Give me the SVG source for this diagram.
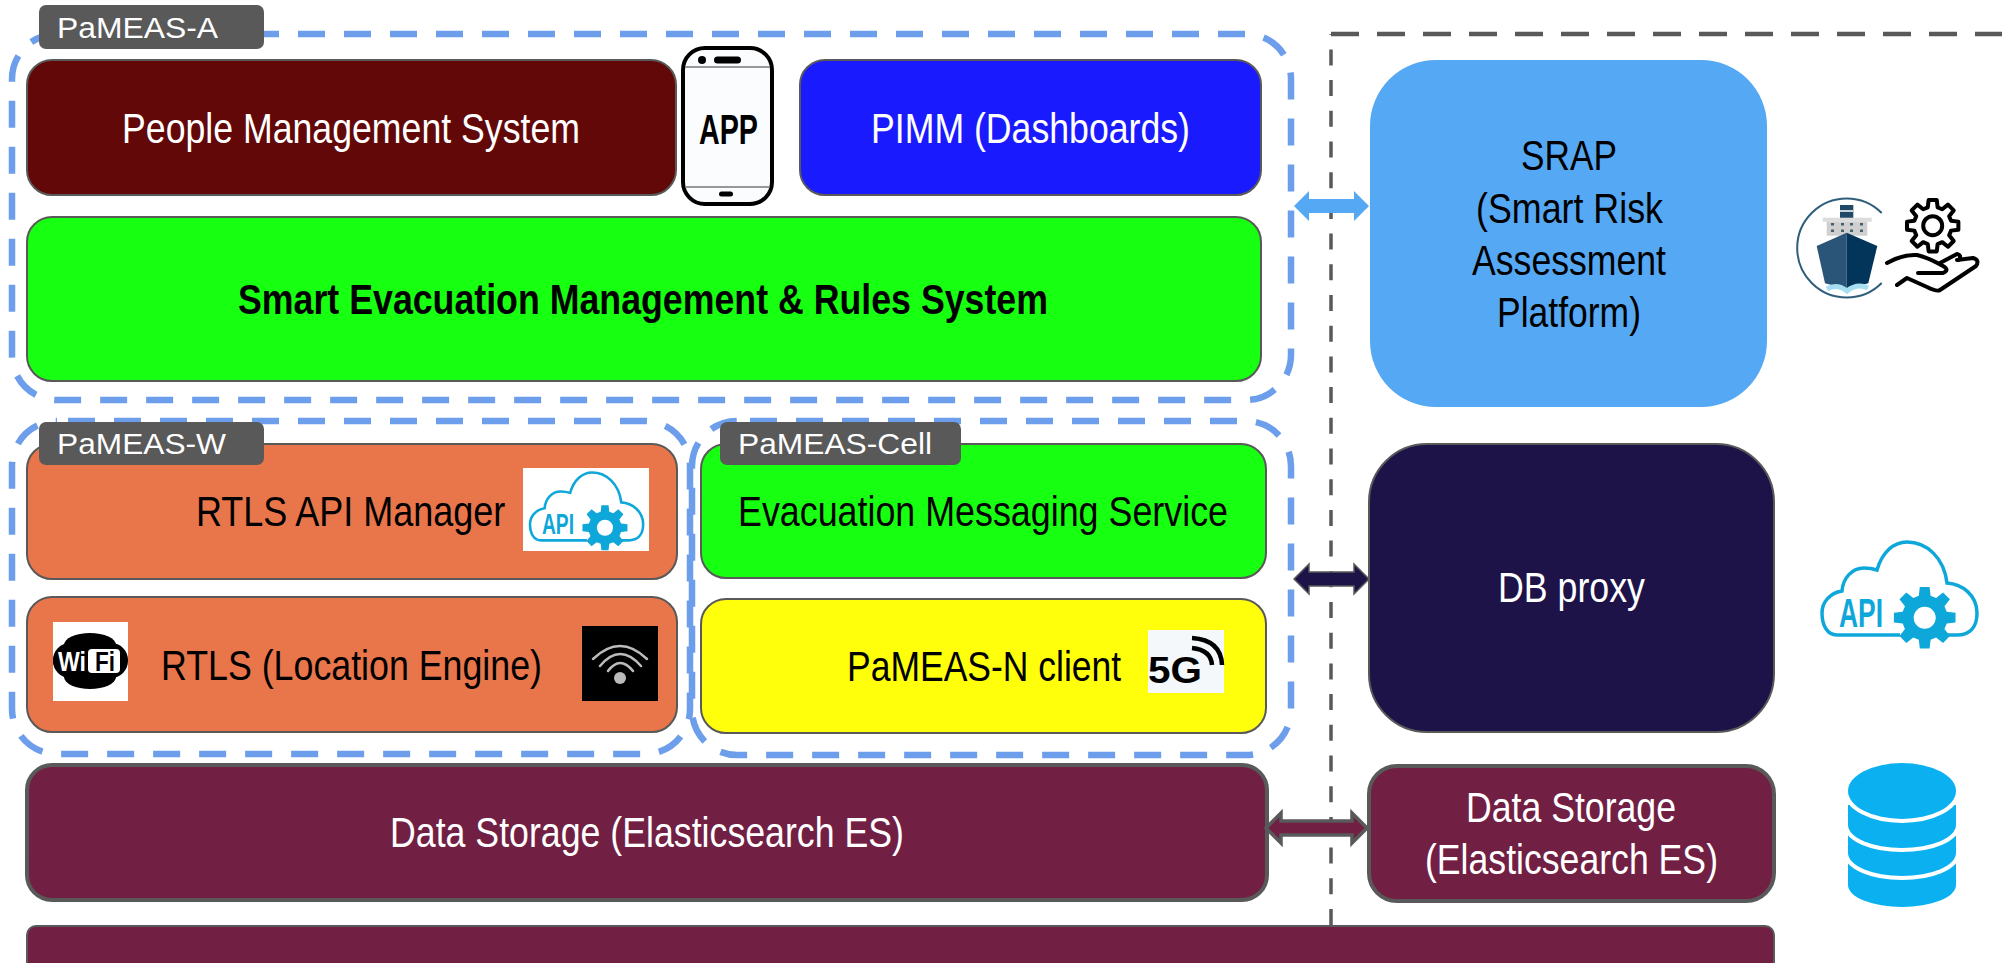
<svg xmlns="http://www.w3.org/2000/svg" xmlns:xlink="http://www.w3.org/1999/xlink" width="2002" height="963" viewBox="0 0 2002 963">
<style>
text{font-family:"Liberation Sans",Arial,sans-serif;font-size:43px}
.w{fill:#fff}.k{fill:#000}
.b{font-weight:bold}
.lab{font-size:30px;fill:#fff}
.box{stroke:#595959;stroke-width:2}
.thick{stroke:#595959;stroke-width:4;fill:#721f44}
.dash{fill:none;stroke:#6d9eeb;stroke-width:6.5;stroke-dasharray:27 19}
.tag{fill:#595959}
.api{fill:none;stroke:#0ea7da;stroke-width:3.5}
</style>
<defs>
<polygon id="gearshape" points="18.35,-4.92 25.68,-4.07 25.68,4.07 18.35,4.92 16.45,9.5 21.03,15.28 15.28,21.03 9.5,16.45 4.92,18.35 4.07,25.68 -4.07,25.68 -4.92,18.35 -9.5,16.45 -15.28,21.03 -21.03,15.28 -16.45,9.5 -18.35,4.92 -25.68,4.07 -25.68,-4.07 -18.35,-4.92 -16.45,-9.5 -21.03,-15.28 -15.28,-21.03 -9.5,-16.45 -4.92,-18.35 -4.07,-25.68 4.07,-25.68 4.92,-18.35 9.5,-16.45 15.28,-21.03 21.03,-15.28 16.45,-9.5"/>
<g id="apicloud">
<path class="api" d="M78 95H15C5 95 0 85 0 73C0 62 8 53 20 51C21 38 30 28 42 28C48 28 52 29 55 30C60 12 72 2 85 2C105 2 122 18 125 43C140 44 155 55 155 73C155 87 148 95 135 95H125"/>
<use xlink:href="#gearshape" transform="translate(102.7 77.7) scale(1.2)" fill="#0ea7da"/>
<circle cx="102.7" cy="77.7" r="11" fill="#fff"/>
</g>
</defs>
<rect width="2002" height="963" fill="#fff"/>

<g id="boundary">
<path d="M1331 925V34" fill="none" stroke="#595959" stroke-width="3.5" stroke-dasharray="16 14.7"/>
<path d="M1331 34H2002" fill="none" stroke="#595959" stroke-width="4.5" stroke-dasharray="28 18"/>
</g>

<g id="group-a-frame"><rect class="dash" x="12" y="34" width="1279" height="366" rx="45" stroke-dashoffset="35"/></g>
<g id="group-w-frame"><rect class="dash" x="12" y="421" width="678" height="333" rx="45" stroke-dashoffset="35"/></g>
<g id="group-cell-frame"><rect class="dash" x="692" y="421" width="599" height="334" rx="45" stroke-dashoffset="33"/></g>

<g id="people-management">
<rect class="box" x="27" y="60" width="649" height="135" rx="25" fill="#620808"/>
<text class="w" x="122" y="143" textLength="458" lengthAdjust="spacingAndGlyphs">People Management System</text>
</g>
<g id="app-icon">
<rect x="683" y="48" width="89" height="156" rx="22" fill="#fbfcfe" stroke="#000" stroke-width="4"/>
<path d="M685 67H770M685 187H770" stroke="#777" stroke-width="1.5" fill="none"/>
<circle cx="702" cy="60" r="4"/>
<rect x="714" y="56.500" width="27" height="7" rx="3.500"/>
<rect x="719" y="191.500" width="14" height="5" rx="2.500"/>
<text class="k b" x="699" y="144" textLength="59" lengthAdjust="spacingAndGlyphs">APP</text>
</g>
<g id="pimm">
<rect class="box" x="800" y="60" width="461" height="135" rx="25" fill="#1a1aff"/>
<text class="w" x="871" y="143" textLength="319" lengthAdjust="spacingAndGlyphs">PIMM (Dashboards)</text>
</g>
<g id="smart-evacuation">
<rect class="box" x="27" y="217" width="1234" height="164" rx="25" fill="#17ff11"/>
<text class="k b" x="238" y="314" textLength="810" lengthAdjust="spacingAndGlyphs">Smart Evacuation Management &amp; Rules System</text>
</g>
<g id="tag-a">
<rect class="tag" x="39" y="5" width="225" height="44" rx="7"/>
<text class="lab" x="57" y="38" textLength="161" lengthAdjust="spacingAndGlyphs">PaMEAS-A</text>
</g>

<g id="rtls-api">
<rect class="box" x="27" y="444" width="650" height="135" rx="25" fill="#e9754b"/>
<text class="k" transform="translate(196 526) scale(1 1.19)" style="font-size:36px">RTLS API Manager</text>
<rect x="523" y="468" width="126" height="83" fill="#fff"/>
<use xlink:href="#apicloud" transform="translate(530 471) scale(0.73)"/>
<text x="542" y="534" style="font-size:29px;fill:#0ea7da;font-weight:bold" textLength="32" lengthAdjust="spacingAndGlyphs">API</text>
</g>
<g id="rtls-engine">
<rect class="box" x="27" y="597" width="650" height="135" rx="25" fill="#e9754b"/>
<text class="k" x="161" y="680" textLength="381" lengthAdjust="spacingAndGlyphs">RTLS (Location Engine)</text>
<rect x="53" y="622" width="75" height="79" fill="#fff"/>
<rect x="53" y="643" width="75" height="35" rx="17"/>
<ellipse cx="90" cy="661" rx="37" ry="21"/>
<ellipse cx="90" cy="645" rx="26" ry="12"/>
<ellipse cx="90" cy="677" rx="26" ry="12"/>
<rect x="88" y="649" width="32" height="24" rx="4" fill="#fff"/>
<text class="w b" x="58" y="671" style="font-size:27px" textLength="28" lengthAdjust="spacingAndGlyphs">Wi</text>
<text class="k b" x="95" y="671" style="font-size:27px" textLength="20" lengthAdjust="spacingAndGlyphs">Fi</text>
<rect x="582" y="626" width="76" height="75"/>
<circle cx="620" cy="678" r="6" fill="#bbb"/>
<path d="M593 659Q620 633 647 659M600 666Q620 642 641 666M608 671Q620 655 633 671" fill="none" stroke="#bbb" stroke-width="2.500" stroke-linecap="round"/>
</g>
<g id="tag-w">
<rect class="tag" x="39" y="422" width="225" height="43" rx="7"/>
<text class="lab" x="57" y="454" textLength="169" lengthAdjust="spacingAndGlyphs">PaMEAS-W</text>
</g>

<g id="evac-messaging">
<rect class="box" x="701" y="444" width="565" height="134" rx="25" fill="#17ff11"/>
<text class="k" x="738" y="526" textLength="490" lengthAdjust="spacingAndGlyphs">Evacuation Messaging Service</text>
</g>
<g id="pameas-n">
<rect class="box" x="701" y="599" width="565" height="134" rx="25" fill="#ffff0c"/>
<text class="k" transform="translate(847 681) scale(1 1.21)" style="font-size:35.500px">PaMEAS-N client</text>
<rect x="1148" y="630" width="76" height="63" fill="#f5f8fa"/>
<text class="k b" x="1148" y="683" style="font-size:37px" textLength="54" lengthAdjust="spacingAndGlyphs">5G</text>
<path d="M1192 638Q1221 640 1222 665M1192 648Q1211 650 1212 665" fill="none" stroke="#000" stroke-width="4.500"/>
</g>
<g id="tag-cell">
<rect class="tag" x="720" y="422" width="241" height="43" rx="7"/>
<text class="lab" x="738" y="454" textLength="194" lengthAdjust="spacingAndGlyphs">PaMEAS-Cell</text>
</g>

<g id="data-storage-main">
<rect class="thick" x="27" y="765" width="1240" height="135" rx="25"/>
<text class="w" x="390" y="847" textLength="514" lengthAdjust="spacingAndGlyphs">Data Storage (Elasticsearch ES)</text>
</g>
<g id="bottom-bar"><rect class="box" x="27" y="926" width="1747" height="60" rx="9" fill="#721f44"/></g>

<g id="srap">
<rect x="1370" y="60" width="397" height="347" rx="66" fill="#55a8f3"/>
<text class="k" x="1521" y="170" textLength="96" lengthAdjust="spacingAndGlyphs">SRAP</text>
<text class="k" x="1476" y="223" textLength="187" lengthAdjust="spacingAndGlyphs">(Smart Risk</text>
<text class="k" x="1472" y="275" textLength="194" lengthAdjust="spacingAndGlyphs">Assessment</text>
<text class="k" x="1497" y="327" textLength="144" lengthAdjust="spacingAndGlyphs">Platform)</text>
</g>
<g id="db-proxy">
<rect class="box" x="1369" y="444" width="405" height="288" rx="58" fill="#1d1348"/>
<text class="w" x="1498" y="602" textLength="147" lengthAdjust="spacingAndGlyphs">DB proxy</text>
</g>
<g id="data-storage-right">
<rect class="thick" x="1369" y="766" width="405" height="135" rx="28"/>
<text class="w" x="1466" y="822" textLength="210" lengthAdjust="spacingAndGlyphs">Data Storage</text>
<text class="w" x="1425" y="874" textLength="293" lengthAdjust="spacingAndGlyphs">(Elasticsearch ES)</text>
</g>

<g id="connectors">
<polygon points="1294,206 1309,191 1309,199 1354,199 1354,191 1369,206 1354,221 1354,213 1309,213 1309,221" fill="#55a8f3"/>
<polygon points="1294,579 1309,564 1309,572 1354,572 1354,564 1369,579 1354,594 1354,586 1309,586 1309,594" fill="#1d1348" stroke="#595959" stroke-width="1.500"/>
<polygon points="1266,828 1281,813 1281,821 1352,821 1352,813 1367,828 1352,843 1352,835 1281,835 1281,843" fill="#721f44" stroke="#595959" stroke-width="3.500"/>
</g>

<g id="ship-icon">
<path d="M1881.700 213A49.500 49.500 0 1 0 1881.700 283" fill="none" stroke="#2f5d7c" stroke-width="2"/>
<rect x="1840" y="205" width="13.300" height="13" fill="#1e4a68"/>
<rect x="1840" y="210" width="13.300" height="2" fill="#c9d3da"/>
<rect x="1822.700" y="217.700" width="49" height="4" fill="#dcdcdc"/>
<rect x="1826.700" y="221.700" width="40.600" height="14" fill="#cfcfcf"/>
<g fill="#44606f"><rect x="1831" y="223" width="3" height="2.500"/><rect x="1841" y="223" width="3" height="2.500"/><rect x="1850" y="223" width="3" height="2.500"/><rect x="1860" y="223" width="3" height="2.500"/><rect x="1831" y="229.500" width="3" height="2.500"/><rect x="1841" y="229.500" width="3" height="2.500"/><rect x="1850" y="229.500" width="3" height="2.500"/><rect x="1860" y="229.500" width="3" height="2.500"/></g>
<polygon points="1816.700,246 1846.700,232.700 1846.700,289 1825,283.300" fill="#2a5478"/>
<polygon points="1877.300,246 1846.700,232.700 1846.700,289 1868.300,283.300" fill="#03355a"/>
<path d="M1827 289Q1837 283 1847 291Q1857 283 1868 288" fill="none" stroke="#a6dff2" stroke-width="5"/>
</g>
<g id="hand-gear-icon" fill="none" stroke="#000" stroke-width="4" stroke-linejoin="round" stroke-linecap="round">
<use xlink:href="#gearshape" transform="translate(1932.700 225.700)"/>
<circle cx="1932.700" cy="225.700" r="9.500"/>
<path d="M1887 263Q1903 254 1917 255Q1927 257 1943 266Q1950 270 1943 273L1918 273"/>
<path d="M1940 263L1957 254Q1962 255 1959 260M1957 260L1973 258Q1980 260 1976 266L1940 290Q1937 292 1927 287L1907 278L1897 285"/>
</g>
<g id="api-icon">
<use xlink:href="#apicloud" transform="translate(1822 540)"/>
<text x="1839" y="627" style="font-size:40px;fill:#0ea7da;font-weight:bold" textLength="44" lengthAdjust="spacingAndGlyphs">API</text>
</g>
<g id="db-icon" fill="#0bb0f0" stroke="#fff" style="paint-order:stroke">
<path d="M1848 862V885A54 22 0 0 0 1956 885V862Z" stroke="none"/>
<path d="M1848 833V853A54 23 0 0 0 1956 853V833Z" stroke-width="8"/>
<path d="M1848 805V825A54 23 0 0 0 1956 825V805Z" stroke-width="8"/>
<ellipse cx="1902" cy="791" rx="54" ry="28" stroke-width="8"/>
</g>
</svg>
